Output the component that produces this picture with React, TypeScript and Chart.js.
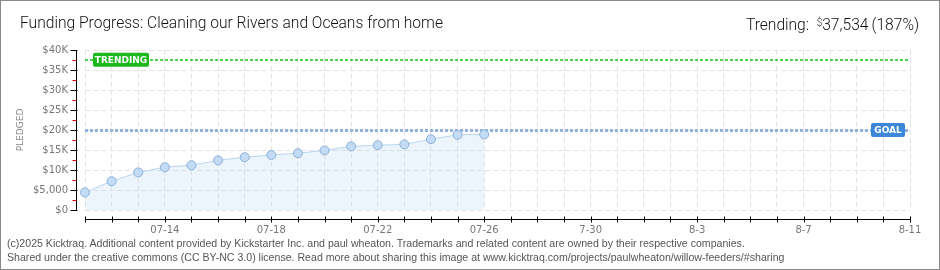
import React, { useEffect, useRef } from "react";
import { Chart, registerables } from "chart.js";

Chart.register(...registerables);

// ---- data ----
const dayLabels = [
  "07-11", "07-12", "07-13", "07-14", "07-15", "07-16", "07-17", "07-18",
  "07-19", "07-20", "07-21", "07-22", "07-23", "07-24", "07-25", "07-26",
  "07-27", "07-28", "07-29", "7-30", "07-31", "08-01", "08-02", "8-3",
  "08-04", "08-05", "08-06", "8-7", "08-08", "08-09", "08-10", "8-11",
];
const shownTickIndexes = [3, 7, 11, 15, 19, 23, 27, 31];
const pledged = [
  4400, 7200, 9400, 10700, 11200, 12400, 13200, 13750,
  14200, 14900, 15900, 16200, 16400, 17700, 18800, 18900,
];
const yTickValues = [0, 5000, 10000, 15000, 20000, 25000, 30000, 35000, 40000];
const yTickLabels = ["$0", "$5,000", "$10K", "$15K", "$20K", "$25K", "$30K", "$35K", "$40K"];
const goalValue = 20000;
const trendingValue = 37534;
const trendingText = "37,534";
const trendingPct = "(187%)";

const TICK_FONT = "'DejaVu Sans', sans-serif";

function roundRect(ctx: CanvasRenderingContext2D, x: number, y: number, w: number, h: number, r: number) {
  ctx.beginPath();
  ctx.moveTo(x + r, y);
  ctx.lineTo(x + w - r, y);
  ctx.quadraticCurveTo(x + w, y, x + w, y + r);
  ctx.lineTo(x + w, y + h - r);
  ctx.quadraticCurveTo(x + w, y + h, x + w - r, y + h);
  ctx.lineTo(x + r, y + h);
  ctx.quadraticCurveTo(x, y + h, x, y + h - r);
  ctx.lineTo(x, y + r);
  ctx.quadraticCurveTo(x, y, x + r, y);
  ctx.closePath();
}

const decorPlugin = {
  id: "kicktraqDecor",
  beforeDatasetsDraw(chart: any) {
    const { ctx, chartArea, scales } = chart;
    const y = scales.y;
    const left = chartArea.left;
    const right = chartArea.right;
    ctx.save();
    // trending line
    const ty = Math.round(y.getPixelForValue(trendingValue));
    ctx.setLineDash([3, 2]);
    ctx.lineWidth = 2;
    ctx.strokeStyle = "#4fd24f";
    ctx.beginPath();
    ctx.moveTo(left, ty);
    ctx.lineTo(right, ty);
    ctx.stroke();
    // goal line
    const gy = Math.round(y.getPixelForValue(goalValue)) + 0.5;
    ctx.strokeStyle = "#93b3de";
    ctx.lineWidth = 3;
    ctx.beginPath();
    ctx.moveTo(left, gy);
    ctx.lineTo(right, gy);
    ctx.stroke();
    ctx.setLineDash([]);
    ctx.restore();
  },
  afterDatasetsDraw(chart: any) {
    const { ctx, chartArea, scales } = chart;
    const y = scales.y;
    ctx.save();
    // TRENDING badge
    const ty = y.getPixelForValue(trendingValue);
    ctx.fillStyle = "#1db81d";
    roundRect(ctx, chartArea.left + 8, ty - 7, 56, 14, 2);
    ctx.fill();
    ctx.fillStyle = "#ffffff";
    ctx.font = "bold 9px " + TICK_FONT;
    ctx.textAlign = "center";
    ctx.textBaseline = "middle";
    ctx.fillText("TRENDING", chartArea.left + 36, ty + 0.5);
    // GOAL badge
    const gy = y.getPixelForValue(goalValue);
    ctx.fillStyle = "#3d87d8";
    roundRect(ctx, chartArea.right - 39, gy - 7, 34, 14, 2);
    ctx.fill();
    ctx.fillStyle = "#ffffff";
    ctx.fillText("GOAL", chartArea.right - 22, gy + 0.5);
    ctx.restore();
  },
  afterDraw(chart: any) {
    const { ctx, chartArea, scales } = chart;
    const x = scales.x;
    const y = scales.y;
    ctx.save();
    // y axis
    const ax = chartArea.left - 8.5;
    ctx.strokeStyle = "#000";
    ctx.lineWidth = 1;
    ctx.beginPath();
    ctx.moveTo(ax, y.getPixelForValue(40000));
    ctx.lineTo(ax, y.getPixelForValue(0));
    ctx.stroke();
    for (const v of yTickValues) {
      const py = Math.round(y.getPixelForValue(v)) + 0.5;
      ctx.strokeStyle = "#000";
      ctx.beginPath();
      ctx.moveTo(ax - 6, py);
      ctx.lineTo(ax + 1, py);
      ctx.stroke();
      if (v < 40000) {
        const my = Math.round(y.getPixelForValue(v + 2500)) + 0.5;
        ctx.strokeStyle = "#e00000";
        ctx.beginPath();
        ctx.moveTo(ax - 4, my);
        ctx.lineTo(ax, my);
        ctx.stroke();
      }
    }
    // x axis
    const ay = chartArea.bottom + 9.5;
    ctx.strokeStyle = "#000";
    ctx.beginPath();
    ctx.moveTo(chartArea.left, ay);
    ctx.lineTo(chartArea.right + 1, ay);
    ctx.stroke();
    for (let i = 0; i < dayLabels.length; i++) {
      const px = Math.round(x.getPixelForValue(i)) + 0.5;
      ctx.beginPath();
      ctx.moveTo(px, ay - 3);
      ctx.lineTo(px, ay + 3);
      ctx.stroke();
    }
    ctx.restore();
  },
};

export default function App() {
  const canvasRef = useRef<HTMLCanvasElement | null>(null);

  useEffect(() => {
    document.body.style.margin = "0";
    const canvas = canvasRef.current;
    if (!canvas) return;
    const chart = new Chart(canvas, {
      type: "line",
      data: {
        labels: dayLabels,
        datasets: [
          {
            label: "Pledged",
            data: pledged,
            borderColor: "#b9d5f3",
            borderWidth: 1,
            backgroundColor: "rgba(180,210,245,0.25)",
            fill: "origin",
            tension: 0,
            pointRadius: 4.5,
            pointBackgroundColor: "#c3dcf6",
            pointBorderColor: "#8eaed6",
            pointBorderWidth: 1,
          },
        ],
      },
      options: {
        animation: false,
        responsive: false,
        maintainAspectRatio: false,
        layout: { padding: { left: 0, right: 30, top: 50, bottom: 0 } },
        plugins: {
          legend: { display: false },
          tooltip: { enabled: false },
          title: { display: false },
        },
        scales: {
          x: {
            type: "category",
            offset: false,
            afterFit: (s: any) => {
              s.height = 60;
            },
            grid: { color: "#e3e3e3", drawTicks: false, lineWidth: 1 },
            border: { display: false, dash: [5, 3] },
            ticks: {
              autoSkip: false,
              maxRotation: 0,
              padding: 14,
              color: "#777",
              font: { family: TICK_FONT, size: 10 },
              callback: (_v: any, i: number) =>
                shownTickIndexes.includes(i) ? dayLabels[i] : "",
            },
          },
          y: {
            min: 0,
            max: 40000,
            afterFit: (s: any) => {
              s.width = 85;
            },
            afterBuildTicks: (s: any) => {
              s.ticks = yTickValues.map((v) => ({ value: v }));
            },
            grid: { color: "#e3e3e3", drawTicks: false, lineWidth: 1 },
            border: { display: false, dash: [5, 3] },
            title: {
              display: true,
              text: "PLEDGED",
              color: "#888",
              font: { family: TICK_FONT, size: 9 },
              padding: { top: 15, bottom: 0 },
            },
            ticks: {
              padding: 17,
              color: "#777",
              font: { family: TICK_FONT, size: 10 },
              callback: (v: any) => {
                const i = yTickValues.indexOf(Number(v));
                return i >= 0 ? yTickLabels[i] : "";
              },
            },
          },
        },
      },
      plugins: [decorPlugin],
    });
    return () => chart.destroy();
  }, []);

  return (
    <div
      style={{
        position: "absolute",
        left: 0,
        top: 0,
        width: 940,
        height: 270,
        boxSizing: "border-box",
        border: "1px solid #8a8a8a",
        background: "#fff",
        overflow: "hidden",
      }}
    >
      <canvas
        ref={canvasRef}
        width={940}
        height={270}
        style={{ position: "absolute", left: -1, top: -1, width: 940, height: 270 }}
      />
      <div
        style={{
          position: "absolute",
          left: 19,
          top: 13,
          fontFamily: "Roboto, sans-serif",
          fontWeight: 300,
          fontSize: 15.6,
          lineHeight: "18px",
          color: "#111",
          whiteSpace: "nowrap",
        }}
      >
        Funding Progress: Cleaning our Rivers and Oceans from home
      </div>
      <div
        style={{
          position: "absolute",
          right: 20,
          top: 13,
          fontFamily: "Roboto, sans-serif",
          fontWeight: 300,
          fontSize: 15.6,
          lineHeight: "18px",
          color: "#111",
          whiteSpace: "nowrap",
        }}
      >
        Trending:&nbsp;&nbsp;<span style={{ fontSize: 10, verticalAlign: 4 }}>$</span>
        {trendingText}
        <span style={{ marginLeft: 3 }}>{trendingPct}</span>
      </div>
      <div
        style={{
          position: "absolute",
          left: 6,
          top: 235,
          fontFamily: "'Liberation Sans', sans-serif",
          fontSize: 10.6,
          lineHeight: "14px",
          color: "#555",
          whiteSpace: "nowrap",
        }}
      >
        (c)2025 Kicktraq. Additional content provided by Kickstarter Inc. and paul wheaton. Trademarks and related content are owned by their respective companies.
        <br />
        Shared under the creative commons (CC BY-NC 3.0) license. Read more about sharing this image at www.kicktraq.com/projects/paulwheaton/willow-feeders/#sharing
      </div>
    </div>
  );
}
